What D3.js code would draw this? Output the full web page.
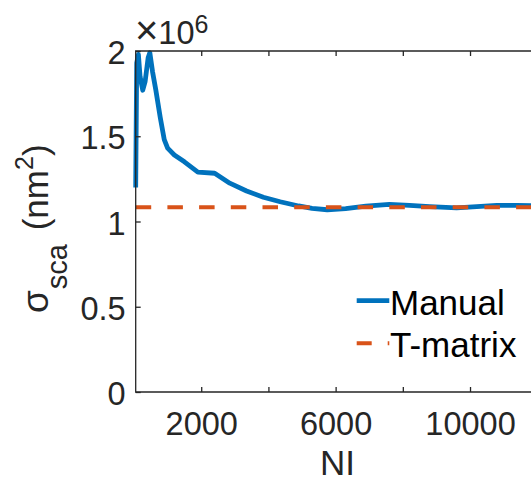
<!DOCTYPE html>
<html>
<head>
<meta charset="utf-8">
<script src="https://cdn.jsdelivr.net/npm/d3@7"></script>
<style>
  html, body { margin: 0; padding: 0; background: #fff; }
  svg { display: block; }
  text { font-family: "Liberation Sans", Arial, Helvetica, sans-serif; }
</style>
</head>
<body>
<svg id="chart" width="531" height="482"></svg>
<script>
// Scattering cross-section vs. number of points, compared with the T-matrix value
const manualNI    = [50, 80, 130, 180, 260, 330, 420, 470, 550, 650, 780, 900, 1000, 1200, 1500, 1900, 2400, 2850, 3350, 3850, 4350, 4900, 5300, 5750, 6300, 6900, 7600, 8200, 8800, 9600, 10200, 10800, 11400, 12000];
const manualSigma = [1.20e6, 1.93e6, 1.98e6, 1.85e6, 1.77e6, 1.82e6, 1.96e6, 1.99e6, 1.88e6, 1.77e6, 1.61e6, 1.48e6, 1.43e6, 1.39e6, 1.35e6, 1.29e6, 1.283e6, 1.225e6, 1.179e6, 1.142e6, 1.116e6, 1.091e6, 1.077e6, 1.069e6, 1.076e6, 1.090e6, 1.100e6, 1.094e6, 1.087e6, 1.080e6, 1.087e6, 1.095e6, 1.094e6, 1.092e6];
const tmatrixNI    = [50, 12000];
const tmatrixSigma = [1.083e6, 1.083e6];

const xTicks = [2000, 4000, 6000, 8000, 10000, 12000];
const xTickLabels = ["2000", "", "6000", "", "10000", ""];
const yTicks = [0, 0.5e6, 1e6, 1.5e6, 2e6];
const yTickLabels = ["0", "0.5", "1", "1.5", "2"];

const seriesNames = ["Manual", "T-matrix"];
const colors = { manual: "#0072BD", tmatrix: "#D95319", axis: "#262626" };

const svg = d3.select("#chart");
const plotLeft = 135.7, plotTop = 51, plotBottom = 392;

const x = d3.scaleLinear().domain([50, 12000]).range([plotLeft, plotLeft + 11950 * 0.0336]);
const y = d3.scaleLinear().domain([0, 2e6]).range([plotBottom, plotTop]);

const plot = svg.append("g");

// Data lines
const line = d3.line().x(d => x(d[0])).y(d => y(d[1]));
plot.append("path")
  .datum(d3.zip(manualNI, manualSigma))
  .attr("d", line)
  .attr("fill", "none")
  .attr("stroke", colors.manual)
  .attr("stroke-width", 4.8)
  .attr("stroke-linejoin", "round");

plot.append("path")
  .datum(d3.zip(tmatrixNI, tmatrixSigma))
  .attr("d", line)
  .attr("fill", "none")
  .attr("stroke", colors.tmatrix)
  .attr("stroke-width", 4)
  .attr("stroke-dasharray", "15.5,16.2");

// Axes (ticks point inward)
const xAxis = d3.axisBottom(x)
  .tickValues(xTicks)
  .tickFormat((d, i) => xTickLabels[i])
  .tickSizeInner(-5).tickSizeOuter(0).tickPadding(20);
const gx = svg.append("g").attr("transform", `translate(0,${plotBottom})`).call(xAxis);

const yAxis = d3.axisLeft(y)
  .tickValues(yTicks)
  .tickFormat((d, i) => yTickLabels[i])
  .tickSizeInner(-5).tickSizeOuter(0).tickPadding(10);
const gy = svg.append("g").attr("transform", `translate(${plotLeft},0)`).call(yAxis);

const gTop = svg.append("g").attr("transform", `translate(0,${plotTop})`)
  .call(d3.axisTop(x).tickValues(xTicks).tickFormat("").tickSizeInner(-5).tickSizeOuter(0));

[gx, gy, gTop].forEach(g => {
  g.select(".domain").remove();
  g.selectAll(".tick line").attr("stroke", colors.axis).attr("stroke-width", 1.3);
  g.selectAll(".tick text")
    .attr("fill", colors.axis)
    .style("font-size", "32.5px")
    .style("font-family", '"Liberation Sans", Arial, sans-serif');
});
gy.selectAll(".tick text").attr("dy", "12.5px");
gx.selectAll(".tick text").attr("dy", "0.71em");

// Axes box
const xr = x.range();
svg.append("path")
  .attr("d", `M${xr[1] + 10},${plotTop}H${plotLeft}V${plotBottom}H${xr[1] + 10}`)
  .attr("fill", "none")
  .attr("stroke", colors.axis)
  .attr("stroke-width", 1.3);

// Exponent label
const expo = svg.append("text")
  .attr("x", 135).attr("y", 43.5)
  .attr("fill", colors.axis)
  .style("font-size", "32.5px");
expo.append("tspan").style("font-size", "40px").text("×");
expo.append("tspan").text("10");
expo.append("tspan").attr("dy", -10.5).style("font-size", "25px").text("6");

// Axis titles
svg.append("text")
  .attr("x", (xr[0] + xr[1]) / 2 + 1).attr("y", 474.5)
  .attr("text-anchor", "middle")
  .attr("fill", colors.axis)
  .style("font-size", "35px")
  .text("NI");

const ylab = svg.append("text")
  .attr("transform", "translate(48,313) rotate(-90)")
  .attr("text-anchor", "start")
  .attr("fill", colors.axis)
  .style("font-size", "35px");
ylab.append("tspan").style("font-size", "37px").text("σ");
ylab.append("tspan").attr("dy", 19).attr("dx", 1).style("font-size", "29px").text("sca");
ylab.append("tspan").attr("dy", -19).attr("dx", 4).text(" (nm");
ylab.append("tspan").attr("dy", -15).style("font-size", "25px").text("2");
ylab.append("tspan").attr("dy", 15).text(")");

// Legend
const legend = svg.append("g");
const legendRows = [
  { name: seriesNames[0], color: colors.manual, width: 4.8, dash: null, y: 300.7 },
  { name: seriesNames[1], color: colors.tmatrix, width: 4, dash: "15,16", y: 343.3 }
];
legendRows.forEach(r => {
  legend.append("line")
    .attr("x1", 356.7).attr("x2", 389.3)
    .attr("y1", r.y).attr("y2", r.y)
    .attr("stroke", r.color)
    .attr("stroke-width", r.width)
    .attr("stroke-dasharray", r.dash);
  legend.append("text")
    .attr("x", 390).attr("y", r.y + 14)
    .attr("fill", "#000")
    .style("font-size", "35px")
    .text(r.name);
});
</script>
</body>
</html>
